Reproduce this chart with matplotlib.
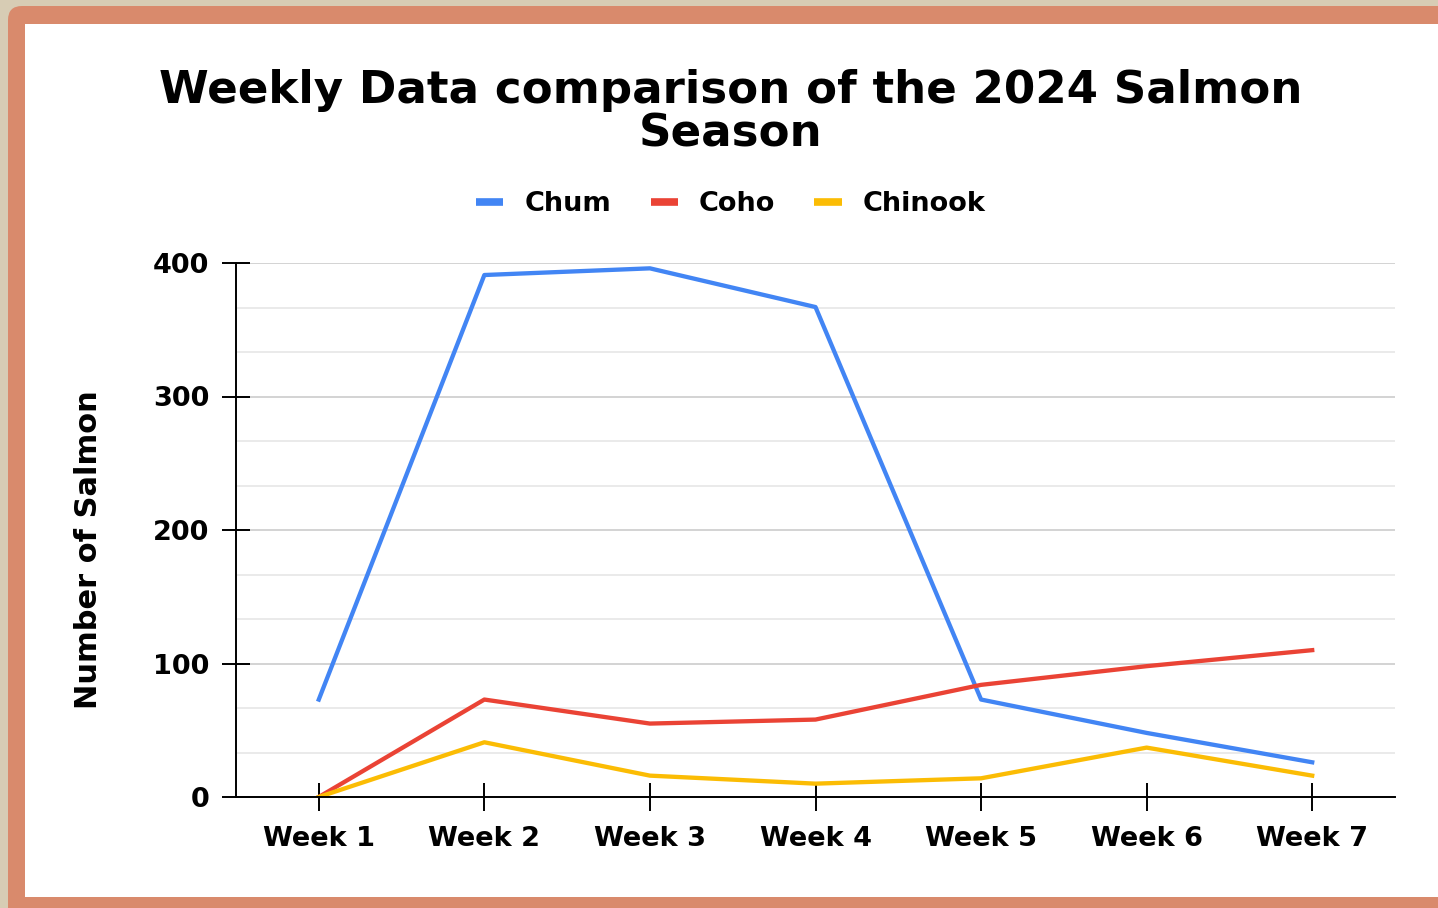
import matplotlib.pyplot as plt
from matplotlib.patches import FancyBboxPatch, Rectangle
from matplotlib.ticker import MultipleLocator

weeks = ['Week 1', 'Week 2', 'Week 3', 'Week 4', 'Week 5', 'Week 6', 'Week 7']
chum = [73, 391, 396, 367, 73, 48, 26]
coho = [0, 73, 55, 58, 84, 98, 110]
chinook = [0, 41, 16, 10, 14, 37, 16]

series = [('Chum', chum, '#4285f4'),
          ('Coho', coho, '#ea4335'),
          ('Chinook', chinook, '#fbbc04')]

plt.rcParams['font.family'] = ['DejaVu Sans']
plt.rcParams['font.weight'] = 'bold'

W, H = 1438, 908
fig = plt.figure(figsize=(W / 100, H / 100), dpi=100)
fig.patch.set_facecolor('#d7ccb4')

# background frame, drawn in pixel units
bg = fig.add_axes([0, 0, 1, 1], zorder=-10)
bg.set_xlim(0, W)
bg.set_ylim(H, 0)
bg.axis('off')
bg.add_patch(FancyBboxPatch((8, 6), W + 50, H + 50,
                            boxstyle='round,pad=0,rounding_size=14',
                            facecolor='#d98a6c', edgecolor='none'))
bg.add_patch(Rectangle((25, 24), W, 873, facecolor='white', edgecolor='none'))

ax = fig.add_axes([236 / W, 1 - 797 / H, 1159 / W, 534 / H])
ax.set_facecolor('none')

x = range(1, len(weeks) + 1)
for name, vals, color in series:
    ax.plot(x, vals, color=color, lw=3.1, label=name, solid_joinstyle='round')

ax.set_xlim(0.5, 7.5)
ax.set_ylim(0, 400)
ax.set_xticks(list(x))
ax.set_xticklabels(weeks)
ax.yaxis.set_major_locator(MultipleLocator(100))
ax.yaxis.set_minor_locator(MultipleLocator(100 / 3))
ax.grid(axis='y', which='major', color='#cccccc', lw=1.2)
ax.grid(axis='y', which='minor', color='#e6e6e6', lw=1.2)
ax.set_axisbelow(True)
ax.tick_params(axis='y', which='minor', length=0)
ax.tick_params(which='major', direction='inout', length=20, width=1.4,
               labelsize=19.5)
ax.tick_params(axis='x', pad=11)
ax.tick_params(axis='y', pad=9)

for s in ['top', 'right']:
    ax.spines[s].set_visible(False)
for s in ['left', 'bottom']:
    ax.spines[s].set_linewidth(1.4)

ax.set_ylabel('Number of Salmon', fontsize=22, fontweight='bold')
ax.yaxis.set_label_coords(-0.115, 0.4625)

fig.text(731 / W, 1 - 69 / H,
         'Weekly Data comparison of the 2024 Salmon\nSeason',
         ha='center', va='top', fontsize=32.5, fontweight='bold',
         linespacing=1.02)

leg = fig.legend(loc='center', bbox_to_anchor=(731 / W, 1 - 204 / H),
                 ncol=3, frameon=False, handlelength=1.0,
                 handletextpad=0.78, columnspacing=1.45,
                 prop={'weight': 'bold', 'size': 19.5})
for line in leg.get_lines():
    line.set_linewidth(5.5)
    line.set_solid_capstyle('butt')

fig.savefig('out.png', dpi=100)
